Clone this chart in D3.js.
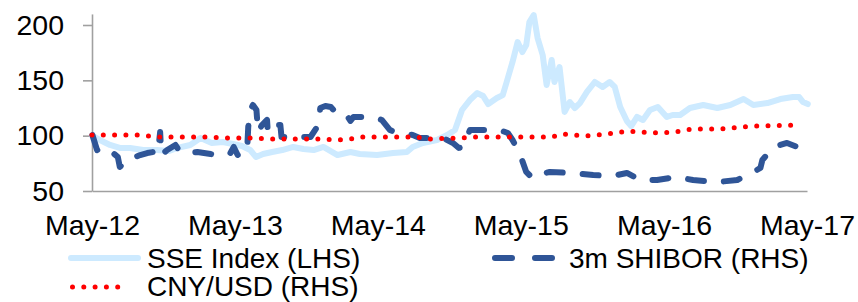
<!DOCTYPE html>
<html>
<head>
<meta charset="utf-8">
<script src="https://cdn.jsdelivr.net/npm/d3@7"></script>
<style>
  html, body { margin: 0; padding: 0; background: #fff; }
  svg { display: block; }
  text { font-family: "Liberation Sans", Arial, sans-serif; fill: #000; }
</style>
</head>
<body>
<svg id="chart" width="858" height="302"></svg>
<script>
// ---------- DATA ----------
const xTickLabels = ["2012-05-01","2013-05-01","2014-05-01","2015-05-01","2016-05-01","2017-05-01"];
const yTickValues = [50, 100, 150, 200];
const seriesNames = ["SSE Index (LHS)", "3m SHIBOR (RHS)", "CNY/USD (RHS)"];

const sseIndex = [
  ["2012-05-01",100],["2012-05-21",96.1],["2012-06-16",91.6],["2012-07-11",88.9],["2012-08-06",88.9],
  ["2012-09-09",87.0],["2012-10-14",87.0],["2012-11-12",86.1],["2012-12-05",88.9],["2013-01-07",91.6],
  ["2013-02-02",97.9],["2013-03-03",93.4],["2013-03-31",94.3],["2013-04-26",92.5],["2013-05-19",90.7],
  ["2013-06-09",87.0],["2013-06-24",80.7],["2013-07-12",83.4],["2013-08-04",85.2],["2013-08-30",87.0],
  ["2013-09-27",89.8],["2013-10-23",88.0],["2013-11-18",87.0],["2013-12-13",89.8],["2014-01-18",82.5],
  ["2014-02-20",85.2],["2014-03-16",83.4],["2014-04-29",82.5],["2014-06-09",84.3],["2014-07-14",85.2],
  ["2014-07-29",89.8],["2014-08-24",93.4],["2014-09-29",96.1],["2014-10-25",100.6],["2014-11-14",105.1],
  ["2014-12-02",123.2],["2014-12-22",132.2],["2015-01-10",138.5],["2015-01-25",135.8],["2015-02-07",128.6],
  ["2015-03-01",134.0],["2015-03-16",136.7],["2015-03-26",148.5],["2015-04-10",166.6],["2015-04-23",184.6],
  ["2015-05-05",175.6],["2015-05-15",181.9],["2015-05-23",202.7],["2015-06-03",209.0],["2015-06-13",188.2],
  ["2015-06-26",172.9],["2015-07-06",145.8],["2015-07-19",168.4],["2015-07-26",148.5],["2015-08-08",162.0],
  ["2015-08-21",121.4],["2015-09-03",130.4],["2015-09-16",125.0],["2015-09-29",129.5],["2015-10-17",139.5],
  ["2015-11-06",148.5],["2015-11-26",144.0],["2015-12-14",148.5],["2015-12-27",144.0],["2016-01-10",125.9],
  ["2016-01-27",113.3],["2016-02-07",108.7],["2016-02-22",116.9],["2016-03-08",114.2],["2016-03-26",123.2],
  ["2016-04-15",125.9],["2016-05-08",116.9],["2016-05-23",118.7],["2016-06-11",118.7],["2016-07-06",125.0],
  ["2016-08-09",127.7],["2016-09-14",125.0],["2016-10-17",127.7],["2016-11-20",133.1],["2016-12-15",127.7],
  ["2017-01-20",129.5],["2017-02-22",133.1],["2017-03-26",134.9],["2017-04-11",134.9],["2017-04-21",130.4],
  ["2017-05-03",128.6]
];

const shibor3m = [
  ["2012-05-02",100.6],["2012-05-14",87.0],["2012-05-26",89.8],["2012-06-03",88.9],["2012-06-21",85.2],
  ["2012-07-06",80.7],["2012-07-11",71.7],["2012-07-21",75.3],["2012-08-06",76.2],["2012-08-19",80.7],
  ["2012-09-01",82.5],["2012-09-19",84.3],["2012-10-04",85.2],["2012-10-16",83.4],["2012-10-22",103.3],
  ["2012-10-25",82.5],["2012-11-09",87.0],["2012-11-30",91.6],["2012-12-12",85.2],["2012-12-30",84.3],
  ["2013-01-25",85.2],["2013-02-28",83.4],["2013-03-16",82.5],["2013-04-18",83.4],["2013-04-28",89.8],
  ["2013-05-08",82.5],["2013-06-01",85.2],["2013-06-04",107.8],["2013-06-09",123.2],["2013-06-16",127.7],
  ["2013-06-25",123.2],["2013-06-29",103.3],["2013-07-09",109.6],["2013-07-22",114.2],["2013-07-24",103.3],
  ["2013-08-05",109.6],["2013-08-25",109.6],["2013-08-28",98.8],["2013-09-27",98.8],["2013-11-10",98.8],
  ["2013-11-30",109.6],["2013-12-05",125.0],["2013-12-18",126.8],["2014-01-01",125.9],["2014-01-15",120.5],
  ["2014-02-07",120.5],["2014-02-20",113.3],["2014-02-28",116.9],["2014-04-06",116.9],["2014-04-27",116.0],
  ["2014-05-11",114.2],["2014-06-01",105.1],["2014-06-19",102.4],["2014-07-29",100.6],["2014-08-16",97.9],
  ["2014-10-14",97.9],["2014-11-09",93.4],["2014-11-24",88.9],["2014-12-05",89.8],["2014-12-15",98.8],
  ["2014-12-22",105.1],["2015-01-18",105.1],["2015-03-08",105.1],["2015-03-29",102.4],["2015-04-10",96.1],
  ["2015-04-28",84.3],["2015-05-15",67.2],["2015-05-31",61.7],["2015-06-10",64.5],["2015-07-14",67.2],
  ["2015-09-11",66.3],["2015-11-02",64.5],["2015-12-22",63.6],["2016-01-27",66.3],["2016-03-01",59.9],
  ["2016-04-13",59.9],["2016-06-03",62.7],["2016-07-14",59.9],["2016-09-14",58.1],["2016-11-04",59.9],
  ["2016-12-15",67.2],["2017-01-02",70.8],["2017-01-07",78.0],["2017-02-05",89.8],["2017-03-11",93.4],
  ["2017-04-06",89.8],["2017-05-03",94.3]
];

const cnyUsd = [
  ["2012-05-01",100.6],["2012-08-22",100.6],["2012-10-19",98.8],["2013-02-12",98.8],["2013-04-10",97.9],
  ["2013-06-05",97.9],["2013-08-01",97.0],["2013-11-30",97.0],["2014-01-20",96.1],["2014-02-20",97.0],
  ["2014-03-16",98.8],["2014-08-09",98.8],["2014-09-06",97.0],["2014-12-02",97.9],["2014-12-27",98.8],
  ["2015-07-19",98.8],["2015-08-14",101.5],["2015-10-09",99.7],["2015-12-07",101.5],["2016-01-30",104.2],
  ["2016-03-01",103.3],["2016-04-21",102.4],["2016-06-16",104.2],["2016-07-09",106.0],["2016-09-22",106.0],
  ["2016-11-15",107.8],["2016-12-12",108.7],["2017-04-06",109.6]
];

// ---------- STYLES ----------
const colSSE = "#cdeaff";
const colShibor = "#2f5597";
const colCny = "#ff0000";
const axisCol = "#a0a0a0";
const fontSize = 28.5;

// ---------- SCALES ----------
const parse = d3.timeParse("%Y-%m-%d");
const svg = d3.select("#chart");
const x = d3.scaleTime()
  .domain([parse("2012-05-01"), parse("2017-05-01")])
  .range([92, 807]);
const y = d3.scaleLinear().domain([50, 210]).range([191, 191 - 160 * (166 / 150)]);

// ---------- AXES ----------
const yAxis = svg.append("g")
  .attr("transform", "translate(92,0)")
  .call(d3.axisLeft(y).tickValues(yTickValues).tickSize(9).tickSizeOuter(0).tickPadding(19));
yAxis.select(".domain").attr("stroke", axisCol).attr("stroke-width", 1.6);
yAxis.selectAll(".tick line").attr("stroke", axisCol).attr("stroke-width", 1.6);
yAxis.selectAll(".tick text").attr("font-size", fontSize).attr("font-family", "Liberation Sans, Arial, sans-serif").attr("fill", "#000");

const fmt = d3.timeFormat("%b-%y");
const xAxis = svg.append("g")
  .attr("transform", "translate(0,191)")
  .call(d3.axisBottom(x).tickValues(xTickLabels.map(parse)).tickFormat(fmt).tickSize(0).tickSizeOuter(0).tickPadding(24));
xAxis.select(".domain").attr("stroke", axisCol).attr("stroke-width", 1.6);
xAxis.selectAll(".tick text").attr("font-size", fontSize).attr("font-family", "Liberation Sans, Arial, sans-serif").attr("fill", "#000");

// ---------- LINES ----------
const line = d3.line().x(d => x(parse(d[0]))).y(d => y(d[1])).curve(d3.curveLinear);

svg.append("path").datum(sseIndex)
  .attr("d", line).attr("fill", "none")
  .attr("stroke", colSSE).attr("stroke-width", 6)
  .attr("stroke-linejoin", "round").attr("stroke-linecap", "round");

svg.append("path").datum(shibor3m)
  .attr("d", line).attr("fill", "none")
  .attr("stroke", colShibor).attr("stroke-width", 6)
  .attr("stroke-linejoin", "round").attr("stroke-linecap", "round")
  .attr("stroke-dasharray", "16,20");

svg.append("path").datum(cnyUsd)
  .attr("d", line).attr("fill", "none")
  .attr("stroke", colCny).attr("stroke-width", 5)
  .attr("stroke-linecap", "round")
  .attr("stroke-dasharray", "0,11.3");

// ---------- LEGEND ----------
const leg = svg.append("g");
const legendItems = [
  {name: seriesNames[0], x1: 71, x2: 138, y: 258, tx: 147, ty: 268, color: colSSE, w: 6, dash: null},
  {name: seriesNames[1], x1: 495, x2: 552, y: 258, tx: 569, ty: 268, color: colShibor, w: 6, dash: "17,23"},
  {name: seriesNames[2], x1: 72.5, x2: 129, y: 287, tx: 147, ty: 296, color: colCny, w: 5, dash: "0,11.3"}
];
legendItems.forEach(it => {
  const l = leg.append("line")
    .attr("x1", it.x1).attr("x2", it.x2).attr("y1", it.y).attr("y2", it.y)
    .attr("stroke", it.color).attr("stroke-width", it.w).attr("stroke-linecap", "round");
  if (it.dash) l.attr("stroke-dasharray", it.dash);
  leg.append("text").attr("x", it.tx).attr("y", it.ty)
    .attr("font-size", 28).text(it.name);
});
</script>
</body>
</html>
